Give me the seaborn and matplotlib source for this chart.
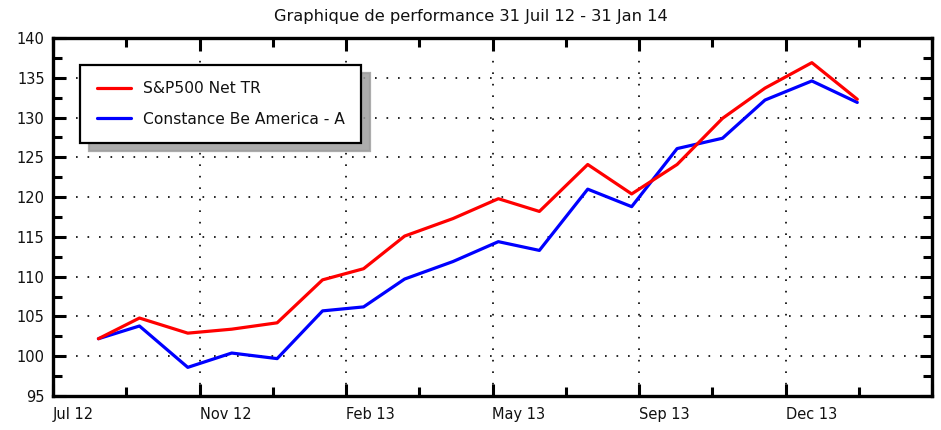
import matplotlib
matplotlib.use("Agg")
import matplotlib.pyplot as plt
import matplotlib.dates as mdates
from matplotlib.ticker import MultipleLocator, FixedLocator
import seaborn as sns
import pandas as pd

# ---- data ----
dates = ["2012-08-31", "2012-09-28", "2012-10-31", "2012-11-30", "2012-12-31",
         "2013-01-31", "2013-02-28", "2013-03-28", "2013-04-30", "2013-05-31",
         "2013-06-28", "2013-07-31", "2013-08-30", "2013-09-30", "2013-10-31",
         "2013-11-29", "2013-12-31", "2014-01-31"]
sp500 = [102.2, 104.8, 102.9, 103.4, 104.2, 109.6, 111.0, 115.1, 117.3, 119.8,
         118.2, 124.1, 120.4, 124.1, 129.9, 133.7, 136.9, 132.3]
constance = [102.2, 103.8, 98.6, 100.4, 99.7, 105.7, 106.2, 109.7, 111.9, 114.4,
             113.3, 121.0, 118.8, 126.1, 127.4, 132.2, 134.6, 131.9]
series_names = ["S&P500 Net TR", "Constance Be America - A"]
series_colors = ["#ff0000", "#0000ff"]
title = "Graphique de performance 31 Juil 12 - 31 Jan 14"
axis_start = "2012-07-31"
y_min, y_max = 95, 140

df = pd.DataFrame({
    "date": pd.to_datetime(dates * 2),
    "value": sp500 + constance,
    "series": [series_names[0]] * len(dates) + [series_names[1]] * len(dates),
})

sns.set_style("white")
plt.rcParams["font.family"] = ["DejaVu Sans"]

fig = plt.figure(figsize=(9.41, 4.30), dpi=100)
ax = fig.add_axes([53 / 941, 34 / 430, (932 - 53) / 941, (396 - 38) / 430])

palette = dict(zip(series_names, series_colors))
sns.lineplot(data=df, x="date", y="value", hue="series",
             hue_order=[series_names[1], series_names[0]],
             palette=palette, linewidth=2.3, ax=ax, legend=False)

# x axis: linear date scale, ticks every 100 days (minor every 50)
x0 = mdates.date2num(pd.Timestamp(axis_start))
ax.set_xlim(x0, x0 + 600)
major = [x0 + 100 * i for i in range(7)]
ax.xaxis.set_major_locator(FixedLocator(major))
ax.xaxis.set_minor_locator(FixedLocator([x0 + 50 + 100 * i for i in range(6)]))
labels = [mdates.num2date(m).strftime("%b %y") for m in major[:-1]] + [""]
ax.set_xticklabels(labels)
for lab in ax.get_xticklabels():
    lab.set_horizontalalignment("left")

ax.set_ylim(y_min, y_max)
ax.yaxis.set_major_locator(MultipleLocator(5))
ax.yaxis.set_minor_locator(MultipleLocator(2.5))

ax.set_xlabel("")
ax.set_ylabel("")

ax.tick_params(which="both", direction="in", top=True, right=True,
               bottom=True, left=True, color="black", labelsize=10.5,
               labelcolor="#111111")
ax.tick_params(which="major", length=9, width=2.2)
ax.tick_params(which="minor", length=6.5, width=2.2)
ax.tick_params(axis="x", which="major", pad=8)
ax.tick_params(axis="y", which="major", pad=6)

for sp in ax.spines.values():
    sp.set_visible(True)
    sp.set_linewidth(2.4)
    sp.set_color("black")

ax.grid(True, which="major", color="black", linestyle=(0, (1, 5.9)), linewidth=1.2)
ax.set_axisbelow(True)

# legend (S&P first)
handles = [plt.Line2D([], [], color=c, linewidth=2.3) for c in series_colors]
leg = ax.legend(handles, series_names, loc="upper left",
                bbox_to_anchor=(0.031, 0.925), borderaxespad=0,
                fontsize=11.2, frameon=True, fancybox=False, framealpha=1,
                edgecolor="black", handlelength=2.2, handletextpad=0.8,
                labelspacing=1.0, borderpad=1.05,
                shadow={"ox": 6, "oy": -6, "color": "0.62", "alpha": 0.85})
leg.get_frame().set_linewidth(1.6)
for t in leg.get_texts():
    t.set_color("#111111")

fig.text(0.5, 1 - 17 / 430, title, ha="center", va="center",
         fontsize=11.7, color="#111111")

fig.savefig("out.png", dpi=100, facecolor="white")
